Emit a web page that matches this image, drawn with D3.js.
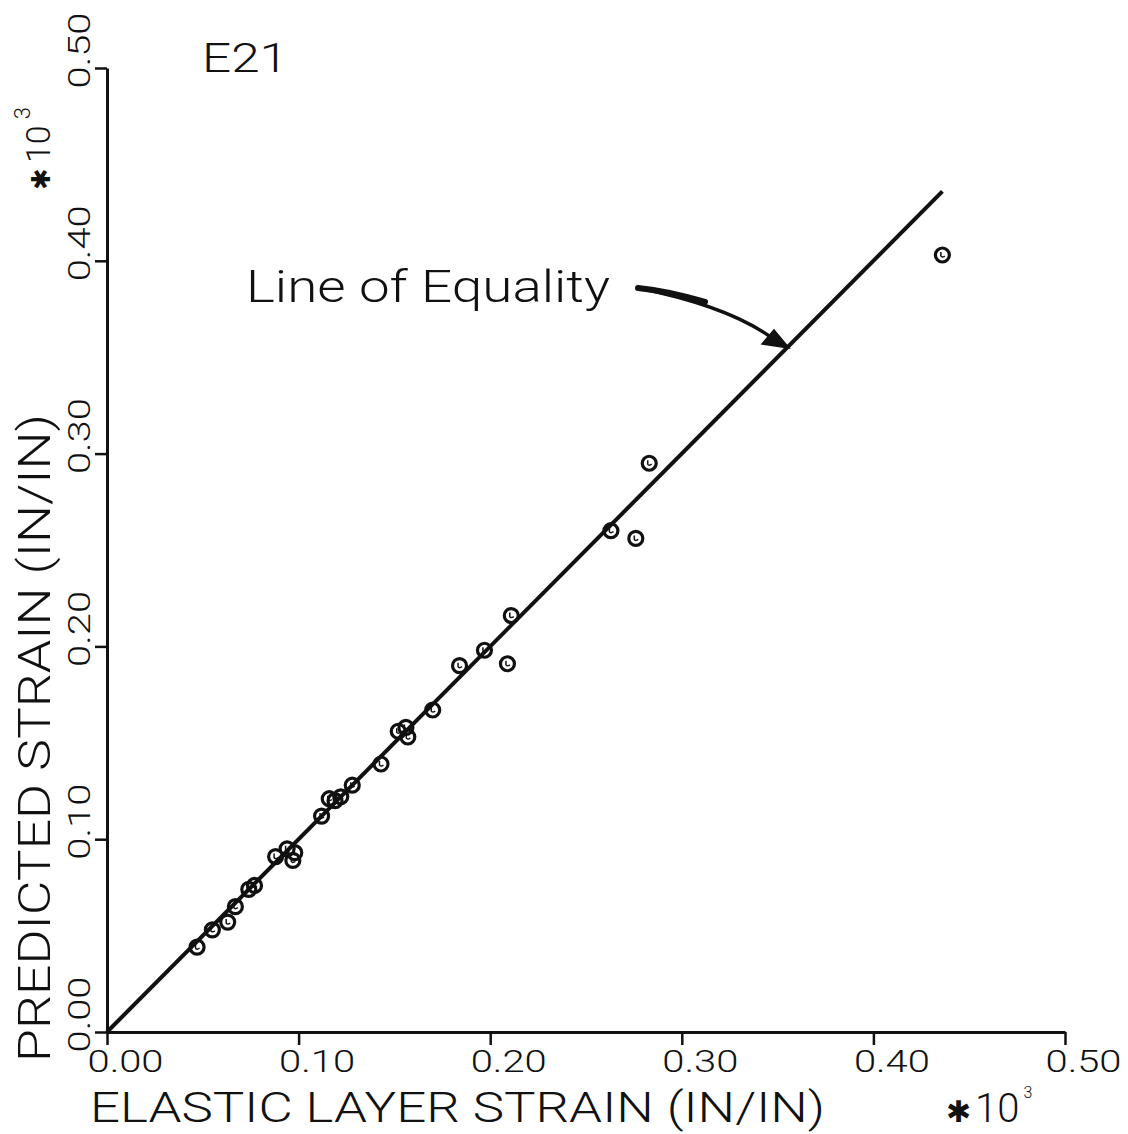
<!DOCTYPE html>
<html>
<head>
<meta charset="utf-8">
<script src="https://cdn.jsdelivr.net/npm/d3@7"></script>
<style>
  html, body { margin: 0; padding: 0; background: #fff; }
  svg { display: block; }
  text { font-family: Roboto, "DejaVu Sans", sans-serif; font-weight: 300; fill: #111; }
</style>
</head>
<body>
<svg id="chart" width="1128" height="1134"></svg>
<script>
// ---- data (values in units of 1e-3 in/in, as plotted) ----
const elasticStrain = [0.047, 0.055, 0.063, 0.067, 0.074, 0.077, 0.088, 0.094, 0.097, 0.098,
  0.112, 0.116, 0.119, 0.122, 0.128, 0.143, 0.152, 0.156, 0.157, 0.170,
  0.184, 0.197, 0.209, 0.211, 0.263, 0.276, 0.283, 0.436];
const predictedStrain = [0.044, 0.053, 0.057, 0.065, 0.074, 0.076, 0.091, 0.095, 0.089, 0.093,
  0.112, 0.121, 0.120, 0.122, 0.128, 0.139, 0.156, 0.158, 0.153, 0.167,
  0.190, 0.198, 0.191, 0.216, 0.260, 0.256, 0.295, 0.403];
const tickValues = [0.00, 0.10, 0.20, 0.30, 0.40, 0.50];
const equalityLine = [0, 0.436];
const xTitle = "ELASTIC LAYER STRAIN (IN/IN)";
const yTitle = "PREDICTED STRAIN (IN/IN)";
const panelLabel = "E21";
const annotation = "Line of Equality";

const svg = d3.select("#chart");
const x = d3.scaleLinear().domain([0, 0.5]).range([107, 1065]);
const y = d3.scaleLinear().domain([0, 0.5]).range([1032, 68]);
const fmt = d3.format(".2f");

// X axis
const gx = svg.append("g").attr("transform", `translate(0,${y(0)})`)
  .call(d3.axisBottom(x).tickValues(tickValues).tickFormat(fmt).tickSize(13).tickSizeOuter(0));
gx.select(".domain").attr("stroke", "#111").attr("stroke-width", 3);
gx.selectAll(".tick line").attr("stroke", "#111").attr("stroke-width", 2.5);
gx.selectAll(".tick text").attr("x", -20).attr("y", 40).attr("dy", 0)
  .attr("text-anchor", "start").attr("font-size", 31).attr("font-weight", 400).attr("fill", "#111")
  .attr("textLength", 76).attr("lengthAdjust", "spacingAndGlyphs");

// Y axis
const gy = svg.append("g").attr("transform", `translate(${x(0)},0)`)
  .call(d3.axisLeft(y).tickValues(tickValues).tickFormat(fmt).tickSize(12).tickSizeOuter(0));
gy.select(".domain").attr("stroke", "#111").attr("stroke-width", 3);
gy.selectAll(".tick line").attr("stroke", "#111").attr("stroke-width", 2.5);
gy.selectAll(".tick text").attr("x", 0).attr("y", 0).attr("dy", 0)
  .attr("text-anchor", "start").attr("transform", "translate(-17,20) rotate(-90)")
  .attr("font-size", 31).attr("font-weight", 400).attr("fill", "#111")
  .attr("textLength", 76).attr("lengthAdjust", "spacingAndGlyphs");

// Axis titles
svg.append("text").attr("x", 90).attr("y", 1122).attr("font-size", 42)
  .attr("textLength", 735).attr("lengthAdjust", "spacingAndGlyphs").text(xTitle);
svg.append("text").attr("transform", "translate(50,1062) rotate(-90)").attr("font-size", 44)
  .attr("textLength", 648).attr("lengthAdjust", "spacingAndGlyphs").text(yTitle);

// multipliers
const mx = svg.append("text").attr("x", 946).attr("y", 1122).attr("font-size", 40);
mx.append("tspan").attr("font-size", 30).attr("font-family", "DejaVu Sans").text("✱");
mx.append("tspan").attr("dx", 4).text("10");
mx.append("tspan").attr("font-size", 16).attr("dy", -24).attr("dx", 4).text("3");

const my = svg.append("text").attr("transform", "translate(50,190) rotate(-90)").attr("font-size", 34);
my.append("tspan").attr("font-size", 26).attr("font-family", "DejaVu Sans").text("✱");
my.append("tspan").attr("dx", 5).text("10");
my.append("tspan").attr("font-size", 22).attr("dy", -20).attr("dx", 6).text("3");

// Panel label
svg.append("text").attr("x", 202).attr("y", 72).attr("font-size", 40)
  .attr("textLength", 86).attr("lengthAdjust", "spacingAndGlyphs").text(panelLabel);

// Line of equality
svg.append("line")
  .attr("x1", x(equalityLine[0])).attr("y1", y(equalityLine[0]))
  .attr("x2", x(equalityLine[1])).attr("y2", y(equalityLine[1]))
  .attr("stroke", "#111").attr("stroke-width", 4);

// annotation text
svg.append("text").attr("x", 246).attr("y", 302).attr("font-size", 44)
  .attr("textLength", 364).attr("lengthAdjust", "spacingAndGlyphs").text(annotation);

// arrow
svg.append("path").attr("d", "M638,288 Q728,306 772,338")
  .attr("fill", "none").attr("stroke", "#111").attr("stroke-width", 3.5);
svg.append("path").attr("d", "M638,288 Q668,291 705,302")
  .attr("fill", "none").attr("stroke", "#111").attr("stroke-width", 6).attr("stroke-linecap", "round");
svg.append("path").attr("d", "M789,348 L762,344 L774,330 Z").attr("fill", "#111").attr("stroke", "#111").attr("stroke-width", 1.5);

// points
const pts = elasticStrain.map((v, i) => [v, predictedStrain[i]]);
const g = svg.append("g");
g.selectAll("circle").data(pts).join("circle")
  .attr("cx", d => x(d[0])).attr("cy", d => y(d[1])).attr("r", 7)
  .attr("fill", "none").attr("stroke", "#111").attr("stroke-width", 3.2);
g.selectAll("path").data(pts).join("path")
  .attr("d", d => `M${x(d[0]) - 1.5},${y(d[1]) - 3} v4 q1,2 4,0`)
  .attr("fill", "none").attr("stroke", "#111").attr("stroke-width", 1.5);
</script>
</body>
</html>
